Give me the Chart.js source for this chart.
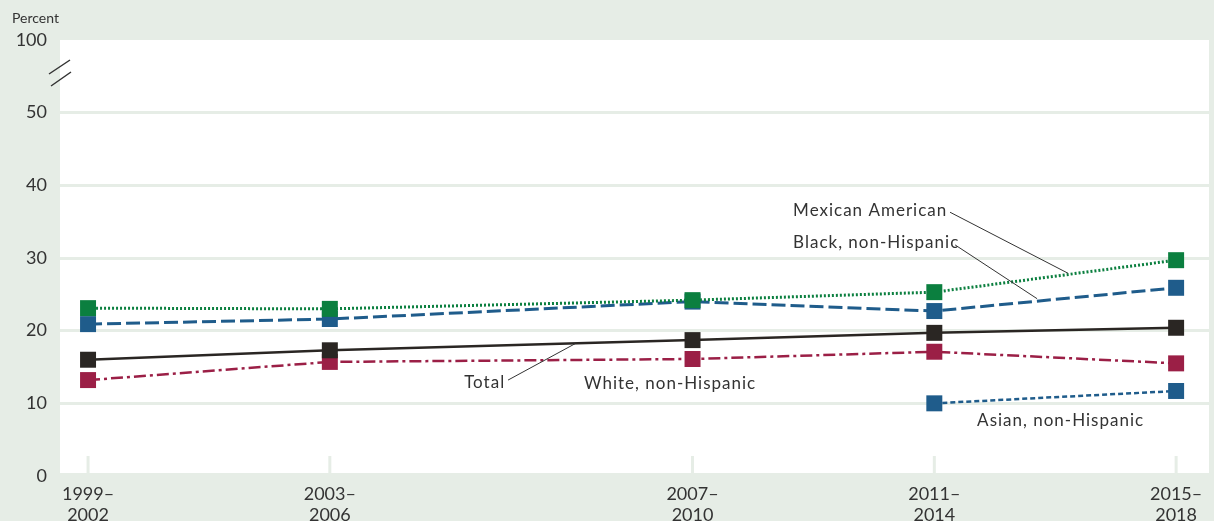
<!DOCTYPE html>
<html>
<head>
<meta charset="utf-8">
<script src="https://cdn.jsdelivr.net/npm/chart.js@4"></script>
<style>
  html, body { margin: 0; padding: 0; background: #e6ede6; overflow: hidden; }
  canvas { display: block; }
</style>
</head>
<body>
<canvas id="chart" width="1214" height="521"></canvas>
<script>
// periods on the x axis and where they sit (the original spacing is uneven)
const periods = [["1999–", "2002"], ["2003–", "2006"], ["2007–", "2010"], ["2011–", "2014"], ["2015–", "2018"]];
const periodPos = [0, 1, 2.5, 3.5, 4.5];

const mexican = [23.1, 23.0, 24.2, 25.3, 29.7];
const black = [20.9, 21.6, 24.0, 22.7, 25.9];
const total = [16.0, 17.3, 18.7, 19.7, 20.4];
const white = [13.2, 15.7, 16.1, 17.1, 15.5];
const asian = [null, null, null, 10.0, 11.7];

const yTicks = [0, 10, 20, 30, 40, 50, 60]; // 60 stands for 100 (broken axis)

const FONT = "Lato, 'DejaVu Sans', sans-serif";

function pts(arr) {
  return arr.map((v, i) => ({ x: periodPos[i], y: v })).filter(p => p.y !== null);
}

function line(label, arr, color, dash, width) {
  return {
    label: label,
    data: pts(arr),
    borderColor: color,
    backgroundColor: color,
    borderWidth: width,
    borderDash: dash,
    pointStyle: 'rect',
    pointRadius: 11.3,
    pointHoverRadius: 11.3,
    pointBorderWidth: 0,
    tension: 0,
    clip: false
  };
}

// labels with leader lines, in data units
const notes = [
  { text: "Mexican American", x: 2.916, y: 36.6, align: 'left', lead: [3.565, 36.3, 4.053, 27.9] },
  { text: "Black, non-Hispanic", x: 2.916, y: 32.1, align: 'left', lead: [3.586, 31.8, 3.925, 24.4] },
  { text: "Total", x: 1.725, y: 12.8, align: 'right', lead: [1.737, 13.2, 2.014, 18.2] },
  { text: "White, non-Hispanic", x: 2.051, y: 12.7, align: 'left' },
  { text: "Asian, non-Hispanic", x: 3.677, y: 7.7, align: 'left' }
];

const decor = {
  id: 'decor',
  beforeDraw(chart) {
    const { ctx, chartArea: a } = chart;
    ctx.save();
    ctx.fillStyle = '#ffffff';
    ctx.fillRect(a.left, a.top, a.right - a.left, a.bottom - a.top - 3);
    ctx.restore();
  },
  beforeDatasetsDraw(chart) {
    const { ctx, chartArea: a, scales: { x } } = chart;
    ctx.save();
    ctx.strokeStyle = '#e6ede6';
    ctx.lineWidth = 3;
    periodPos.forEach(p => {
      const px = x.getPixelForValue(p);
      ctx.beginPath();
      ctx.moveTo(px, a.bottom - 20);
      ctx.lineTo(px, a.bottom);
      ctx.stroke();
    });
    ctx.restore();
  },
  afterDraw(chart) {
    const { ctx, scales: { x, y } } = chart;
    ctx.save();
    // "Percent" axis title
    ctx.fillStyle = '#333333';
    ctx.font = "14px " + FONT;
    ctx.textBaseline = 'middle';
    ctx.textAlign = 'left';
    ctx.fillText("Percent", 12, 18);
    // axis break marks
    ctx.strokeStyle = '#333333';
    ctx.lineWidth = 1.5;
    ctx.beginPath();
    ctx.moveTo(49, 74); ctx.lineTo(70, 60);
    ctx.moveTo(51, 86); ctx.lineTo(71, 72);
    ctx.stroke();
    // notes
    ctx.font = "17px " + FONT;
    ctx.letterSpacing = '1px';
    ctx.lineWidth = 1;
    notes.forEach(n => {
      ctx.textAlign = n.align;
      ctx.fillText(n.text, x.getPixelForValue(n.x), y.getPixelForValue(n.y));
      if (n.lead) {
        ctx.beginPath();
        ctx.moveTo(x.getPixelForValue(n.lead[0]), y.getPixelForValue(n.lead[1]));
        ctx.lineTo(x.getPixelForValue(n.lead[2]), y.getPixelForValue(n.lead[3]));
        ctx.stroke();
      }
    });
    ctx.restore();
  }
};

new Chart(document.getElementById('chart'), {
  type: 'line',
  data: {
    datasets: [
      line("Mexican American", mexican, '#0b7f3f', [2, 2], 3),
      line("Black, non-Hispanic", black, '#1f5c8b', [14, 5], 3),
      line("Total", total, '#2a2623', [], 2.5),
      line("White, non-Hispanic", white, '#9b1f46', [12, 4, 3, 4], 2.5),
      line("Asian, non-Hispanic", asian, '#1f5c8b', [5, 3], 2.5)
    ]
  },
  options: {
    responsive: false,
    animation: false,
    layout: { autoPadding: false, padding: { top: 40, right: 5, left: 0, bottom: 0 } },
    plugins: {
      legend: { display: false },
      tooltip: { enabled: false }
    },
    scales: {
      x: {
        type: 'linear',
        min: -0.116,
        max: 4.636,
        afterBuildTicks: axis => { axis.ticks = periodPos.map(v => ({ value: v })); },
        afterFit: axis => { axis.height = 45; axis.paddingLeft = 0; axis.paddingRight = 0; },
        grid: { display: false },
        border: { display: false },
        ticks: {
          autoSkip: false,
          maxRotation: 0,
          padding: 0,
          color: '#333333',
          font: { size: 18, family: FONT, lineHeight: 1.15 },
          callback: (v) => {
            const i = periodPos.indexOf(v);
            return i >= 0 ? periods[i] : '';
          }
        }
      },
      y: {
        min: 0,
        max: 60,
        afterBuildTicks: axis => { axis.ticks = yTicks.map(v => ({ value: v })); },
        afterFit: axis => { axis.width = 60; },
        border: { display: false },
        grid: {
          color: c => (c.tick.value === 0 || c.tick.value === 60) ? 'rgba(0,0,0,0)' : '#e6ede6',
          lineWidth: 3,
          drawTicks: false
        },
        ticks: {
          padding: 13,
          color: '#333333',
          font: { size: 18, family: FONT },
          callback: v => v === 60 ? '100' : String(v)
        }
      }
    }
  },
  plugins: [decor]
});
</script>
</body>
</html>
